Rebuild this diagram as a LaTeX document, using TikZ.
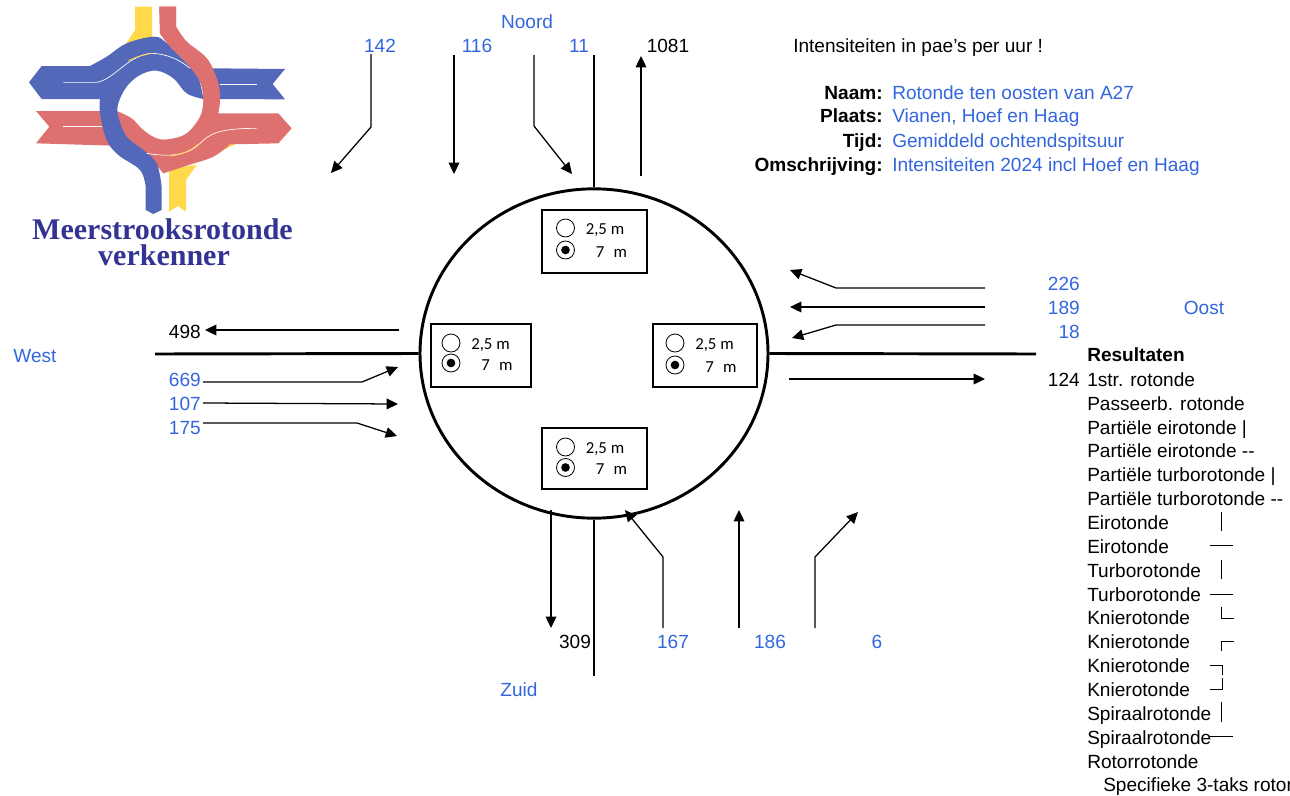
\documentclass[tikz,border=0pt]{standalone}
\usepackage{fontspec}
\setmainfont{Liberation Sans}
\newfontfamily\calib{Carlito}
\newfontfamily\logoserif{Liberation Serif}
\usetikzlibrary{arrows.meta,calc,shapes.geometric}
\definecolor{lblue}{HTML}{3366DD}
\definecolor{logoblue}{HTML}{5468BA}
\definecolor{logored}{HTML}{DF7070}
\definecolor{logoyel}{HTML}{FFD94A}
\definecolor{logotxt}{HTML}{333393}
\tikzset{
 x=0.75pt,y=-0.75pt,
 lab/.style={inner sep=0pt,text height=9pt,text depth=0pt,font=\fontsize{14.3}{16}\selectfont},
 bl/.style={lab,text=lblue},
 blab/.style={lab,font=\fontsize{14.3}{16}\selectfont\bfseries},
 logot/.style={inner sep=0pt,text height=12pt,text depth=0pt,text=logotxt,font=\logoserif\bfseries\fontsize{22.5}{24}\selectfont},
 road/.style={line width=2.2pt,black},
 flow/.style={line width=0.95pt,-{Triangle[length=8.5pt,width=8pt]}},
 tick/.style={line width=0.6pt},
 bx/.style={draw,line width=2pt,fill=white},
 radio/.style={draw,line width=0.6pt,circle,minimum size=13.5pt,inner sep=0pt,fill=white},
 dot/.style={circle,fill=black,minimum size=6.5pt,inner sep=0pt},
 boxt/.style={inner sep=0pt,anchor=west,font=\calib\fontsize{12.6}{14}\selectfont},
 res/.style={lab,anchor=west},
}
\newcommand{\radiobox}[8]{%
 \node[bx,minimum width=#3*0.75pt,minimum height=#4*0.75pt,inner sep=0pt] (box#8) at (#1,#2) {};
 \node[radio] (ra#8) at ($(#1,#2)+(#5,#6)$) {};
 \node[radio] (rb#8) at ($(#1,#2)+(#5,#6+#7)$) {};
 \node[dot] (rd#8) at (rb#8) {};
 \node[boxt] (ta#8) at ($(#1,#2)+(#5+20,#6+2)$) {2,5 m};
 \node[boxt] (tb#8) at ($(#1,#2)+(#5+30,#6+#7+2)$) {7\hspace{0.55em}m};
}
\begin{document}
\begin{tikzpicture}
\useasboundingbox (0,0) rectangle (1290,796);
% logo
\begin{scope}[x=0.25pt,y=-0.25pt]
\fill[logoyel] (405,20)--(456,20)--(456,125)--(375,135)--(405,90)--cycle;
\fill[logoyel] (507,505)--(590,495)--(558,540)--(558,635)--(533,618)--(507,635)--cycle;
\fill[logoyel] (650,460)--(690,430)--(705,433)--cycle;
\def\redshape{(478,20)--(528,20)--(528,80) -- plot[smooth,tension=.6] coordinates {(528,80)(560,125)(620,175)(652,240)(660,290)(655,340)} --(835,340)--(875,385)--(835,430)--(690,433) -- plot[smooth,tension=.6] coordinates {(690,433)(640,470)(560,497)(490,520)} --(465,490)--(430,460)--(340,437)--(108,430)--(148,380)--(108,333)--(350,333) -- plot[smooth,tension=.6] coordinates {(350,333)(395,355)(430,390)(470,415)(510,417)(560,400)(600,350)(610,300)(600,245)(560,190)(510,140)(480,100)} --cycle}
\fill[logored] \redshape;
\fill[logoblue] (640,205)--(855,207)--(818,252)--(855,298)--(610,297)--cycle;
\fill[logoblue] (87,247)--(125,198)--(270,198) -- plot[smooth,tension=.6] coordinates {(270,198)(320,170)(380,130)(460,110)(495,125)(540,170)(590,220)(610,297)} -- plot[smooth,tension=.6] coordinates {(610,297)(560,280)(520,235)(470,212)(420,225)(380,260)(355,310)(355,350)(380,410)(430,450)(470,490)(485,560)} --(485,630)--(460,642)--(437,630)--(437,560) -- plot[smooth,tension=.6] coordinates {(437,560)(420,510)(355,465)(320,420)(300,340)(300,297)} --(125,297)--cycle;
\begin{scope}
\clip (470,0) rectangle (900,330);
\fill[logored] \redshape;
\end{scope}
\draw[white,line width=0.5pt] (190,247)--(290,247) .. controls (340,240) and (380,170) .. (450,160) .. controls (500,160) and (540,180) .. (570,205);
\draw[white,line width=0.5pt] (660,254)--(770,254);
\draw[white,line width=0.5pt] (190,380)--(305,380);
\draw[white,line width=0.5pt] (440,460) .. controls (500,470) and (560,470) .. (600,430) .. controls (630,400) and (660,385) .. (770,385);
\draw[logoyel,line width=0.6pt] (385,182) .. controls (410,170) and (430,165) .. (453,160);
\draw[logoyel,line width=0.6pt] (510,468) .. controls (540,465) and (570,455) .. (595,432);
\end{scope}
\node[logot] (logoa) at (162.5,231) {Meerstrooksrotonde};
\node[logot] (logob) at (164,257) {verkenner};
% roads and roundabout
\node[draw,line width=2.2pt,ellipse,minimum width=261pt,minimum height=247pt,inner sep=0pt] (rot) at (594,353.5) {};
\coordinate (nE) at (594,55);
\coordinate (sE) at (594,676);
\coordinate (wE) at (155,354);
\coordinate (oE) at (1036,354);
\draw[road] (nE)--(rot.north);
\draw[road] (sE)--(rot.south);
\draw[road] (wE)--(rot.west);
\draw[road] (oE)--(rot.east);
\radiobox{594.5}{241.5}{105}{63}{-29}{-13.5}{22}{n}
\radiobox{481}{355.5}{100}{63}{-30}{-12.5}{20}{w}
\radiobox{705}{355.5}{104}{63}{-30}{-12.5}{22}{o}
\radiobox{594.5}{458.5}{105}{61}{-29}{-11.5}{20.5}{z}
% flows
\coordinate (a1) at (371,54); \coordinate (a2) at (371,127); \coordinate (a3) at (331,173);
\draw[flow] (a1)--(a2)--(a3);
\coordinate (b1) at (454,55); \coordinate (b2) at (454,174);
\draw[flow] (b1)--(b2);
\coordinate (c1) at (534,55); \coordinate (c2) at (534,126); \coordinate (c3) at (572,174);
\draw[flow] (c1)--(c2)--(c3);
\coordinate (d1) at (641,176); \coordinate (d2) at (641,56);
\draw[flow] (d1)--(d2);
\coordinate (e1) at (985,288); \coordinate (e2) at (836,288); \coordinate (e3) at (790,270);
\draw[flow] (e1)--(e2)--(e3);
\coordinate (f1) at (985,307); \coordinate (f2) at (790,307);
\draw[flow] (f1)--(f2);
\coordinate (g1) at (985,325); \coordinate (g2) at (836,325); \coordinate (g3) at (792,338);
\draw[flow] (g1)--(g2)--(g3);
\coordinate (h1) at (789,379); \coordinate (h2) at (985,379);
\draw[flow] (h1)--(h2);
\coordinate (i1) at (399,330); \coordinate (i2) at (205,330);
\draw[flow] (i1)--(i2);
\coordinate (j1) at (203,382); \coordinate (j2) at (362,382); \coordinate (j3) at (398,367);
\draw[flow] (j1)--(j2)--(j3);
\coordinate (k1) at (203,403); \coordinate (k2) at (398,404);
\draw[flow] (k1)--(k2);
\coordinate (l1) at (203,423); \coordinate (l2) at (357,423); \coordinate (l3) at (397,436);
\draw[flow] (l1)--(l2)--(l3);
\coordinate (m1) at (551,510); \coordinate (m2) at (551,628);
\draw[flow] (m1)--(m2);
\coordinate (p1) at (663,628); \coordinate (p2) at (663,557); \coordinate (p3) at (625,510);
\draw[flow] (p1)--(p2)--(p3);
\coordinate (q1) at (739,628); \coordinate (q2) at (739,510);
\draw[flow] (q1)--(q2);
\coordinate (r1) at (815,628); \coordinate (r2) at (815,557); \coordinate (r3) at (858,512);
\draw[flow] (r1)--(r2)--(r3);
% labels
\node[bl] (noord) at (527,22) {Noord};
\node[bl] (n142) at (380,46) {142};
\node[bl] (n116) at (477,46) {116};
\node[bl] (n11) at (579,46) {11};
\node[lab] (n1081) at (668,46) {1081};
\node[bl] (west) at (35,356) {West};
\node[lab,anchor=east] (n498) at (201,332) {498};
\node[bl,anchor=east] (n669) at (201,380) {669};
\node[bl,anchor=east] (n107) at (201,404) {107};
\node[bl,anchor=east] (n175) at (201,428) {175};
\node[bl,anchor=east] (n226) at (1080,284) {226};
\node[bl,anchor=east] (n189) at (1080,308) {189};
\node[bl,anchor=east] (n18) at (1080,332) {18};
\node[lab,anchor=east] (n124) at (1080,380) {124};
\node[bl] (oost) at (1204,308) {Oost};
\node[lab] (n309) at (575,642) {309};
\node[bl] (n167) at (673,642) {167};
\node[bl] (n186) at (770,642) {186};
\node[bl] (n6) at (877,642) {6};
\node[bl] (zuid) at (519,690) {Zuid};
% info
\node[res] (int) at (793,46) {Intensiteiten in pae\symbol{39}s per uur !};
\node[blab,anchor=east] (i1t) at (883,93) {Naam:};
\node[blab,anchor=east] (i2t) at (883,116) {Plaats:};
\node[blab,anchor=east] (i3t) at (883,141) {Tijd:};
\node[blab,anchor=east] (i4t) at (883,165) {Omschrijving:};
\node[bl,anchor=west] (v1) at (892,93) {Rotonde ten oosten van A27};
\node[bl,anchor=west] (v2) at (892,116) {Vianen, Hoef en Haag};
\node[bl,anchor=west] (v3) at (892,141) {Gemiddeld ochtendspitsuur};
\node[bl,anchor=west] (v4) at (892,165) {Intensiteiten 2024 incl Hoef en Haag};
% results
\node[blab,anchor=west] (r0) at (1087,355) {Resultaten};
\node[res] (r1t) at (1087,380) {1str. rotonde};
\node[res] (r2t) at (1087,404) {Passeerb. rotonde};
\node[res] (r3t) at (1087,428) {Partiële eirotonde |};
\node[res] (r4t) at (1087,451) {Partiële eirotonde -{}-};
\node[res] (r5t) at (1087,475) {Partiële turborotonde |};
\node[res] (r6t) at (1087,499) {Partiële turborotonde -{}-};
\node[res] (r7t) at (1087,523) {Eirotonde};
\node[res] (r8t) at (1087,547) {Eirotonde};
\node[res] (r9t) at (1087,571) {Turborotonde};
\node[res] (r10t) at (1087,595) {Turborotonde};
\node[res] (r11t) at (1087,618) {Knierotonde};
\node[res] (r12t) at (1087,642) {Knierotonde};
\node[res] (r13t) at (1087,666) {Knierotonde};
\node[res] (r14t) at (1087,690) {Knierotonde};
\node[res] (r15t) at (1087,714) {Spiraalrotonde};
\node[res] (r16t) at (1087,738) {Spiraalrotonde};
\node[res] (r17t) at (1087,762) {Rotorrotonde};
\node[res] (r18t) at (1103,785) {Specifieke 3-taks rotor};
% ticks
\draw[tick] (1221,512)--(1221,531);
\draw[tick] (1210,545)--(1233,545);
\draw[tick] (1221,560)--(1221,579);
\draw[tick] (1210,594)--(1233,594);
\draw[tick] (1221,607)--(1221,618)--(1234,618);
\draw[tick] (1221,651)--(1221,641)--(1234,641);
\draw[tick] (1210,665)--(1222,665)--(1222,675);
\draw[tick] (1210,689)--(1222,689)--(1222,678);
\draw[tick] (1221,702)--(1221,722);
\draw[tick] (1210,736)--(1233,736);
\end{tikzpicture}
\end{document}
